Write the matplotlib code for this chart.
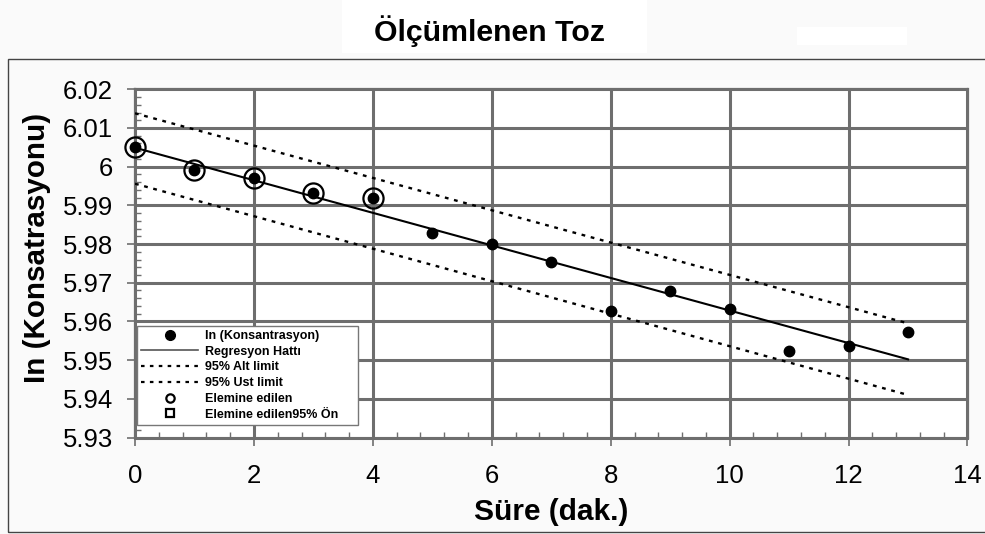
import matplotlib
matplotlib.use("Agg")
import matplotlib.pyplot as plt
from matplotlib.ticker import MultipleLocator, FuncFormatter
from matplotlib.lines import Line2D
from matplotlib.patches import Rectangle

# ---- data ----
time_min = [0, 1, 2, 3, 4, 5, 6, 7, 8, 9, 10, 11, 12, 13]
ln_conc = [6.0052, 5.9992, 5.9971, 5.9931, 5.9920, 5.9829, 5.9799,
           5.9754, 5.9627, 5.9679, 5.9632, 5.9524, 5.9537, 5.9572]
elim_time = [0, 1, 2, 3, 4]
elim_conc = [6.0052, 5.9992, 5.9971, 5.9931, 5.9920]
reg_x = [0, 13]
reg_y = [6.0049, 5.9502]
upper_x = [0, 13]
upper_y = [6.0138, 5.9595]
lower_x = [0, 13]
lower_y = [5.9956, 5.9410]
x_ticks = [0, 2, 4, 6, 8, 10, 12, 14]
y_ticks = [5.93, 5.94, 5.95, 5.96, 5.97, 5.98, 5.99, 6.00, 6.01, 6.02]

title = "Ölçümlenen Toz"
xlabel = "Süre (dak.)"
ylabel = "In (Konsatrasyonu)"
leg_labels = ["In (Konsantrasyon)", "Regresyon Hattı", "95% Alt limit",
              "95% Ust limit", "Elemine edilen", "Elemine edilen95% Ön"]

plt.rcParams['font.family'] = ['Liberation Sans', 'DejaVu Sans']

W, H = 985, 534
fig = plt.figure(figsize=(W / 100, H / 100), dpi=100, facecolor='#fafafa')

# outer frame and white patches
fig.patches.append(Rectangle((8 / W, 1 - 532 / H), 1.2, (532 - 59) / H,
                             transform=fig.transFigure, fill=False,
                             edgecolor='#444444', linewidth=1.0))
fig.patches.append(Rectangle((342 / W, 1 - 53 / H), (647 - 342) / W, 53 / H,
                             transform=fig.transFigure, facecolor='white',
                             edgecolor='none'))
fig.patches.append(Rectangle((797 / W, 1 - 45 / H), (907 - 797) / W, 18 / H,
                             transform=fig.transFigure, facecolor='white',
                             edgecolor='none'))

left, right = 135 / W, 967.5 / W
top, bottom = 1 - 89.3 / H, 1 - 437.5 / H
ax = fig.add_axes([left, bottom, right - left, top - bottom])
ax.set_facecolor('white')

ax.set_xlim(0, 14)
ax.set_ylim(5.93, 6.02)
ax.set_xticks(x_ticks)
ax.set_yticks(y_ticks)
ax.xaxis.set_minor_locator(MultipleLocator(0.4))
ax.yaxis.set_minor_locator(MultipleLocator(0.002))
ax.yaxis.set_major_formatter(FuncFormatter(lambda v, p: f"{v:.2f}".rstrip('0').rstrip('.')))

gc = '#6e6e6e'
ax.grid(True, which='major', color=gc, linewidth=2.2, zorder=0)
ax.set_axisbelow(True)
for s in ax.spines.values():
    s.set_color(gc)
    s.set_linewidth(1.6)
ax.spines['bottom'].set_linewidth(2.2)

ax.tick_params(axis='both', which='major', direction='out', length=6,
               width=1.2, color=gc, labelsize=18.5, labelcolor='black')
ax.tick_params(axis='y', which='major', pad=10)
ax.tick_params(axis='x', which='major', pad=13)
ax.tick_params(axis='both', which='minor', direction='in', length=4,
               width=1.0, color=gc)

dash = (0, (1.6, 2.4))
ax.plot(upper_x, upper_y, color='black', linewidth=1.7, linestyle=dash, zorder=3)
ax.plot(lower_x, lower_y, color='black', linewidth=1.7, linestyle=dash, zorder=3)
ax.plot(reg_x, reg_y, color='black', linewidth=1.5, zorder=3)
ax.plot(time_min, ln_conc, 'o', color='black', markersize=7.5, zorder=4,
        clip_on=False)
ax.plot(elim_time, elim_conc, 'o', markerfacecolor='none', markeredgecolor='black',
        markeredgewidth=1.6, markersize=14.5, zorder=4, clip_on=False)

ax.set_xlabel(xlabel, fontsize=21.5, fontweight='bold')
ax.xaxis.set_label_coords(0.5, (437.5 - 512) / 348.2)
ax.xaxis.label.set_va('center')
ax.set_ylabel(ylabel, fontsize=21.3, fontweight='bold')
ax.yaxis.set_label_coords((37 - 135) / 832.5, (437.5 - 248) / 348.2)
ax.yaxis.label.set_va('center')

fig.text(489 / W, 1 - 31 / H, title, ha='center', va='center',
         fontsize=21.8, fontweight='bold')

handles = [
    Line2D([], [], marker='o', linestyle='none', color='black', markersize=7),
    Line2D([], [], color='#555555', linewidth=1.2),
    Line2D([], [], color='black', linewidth=1.6, linestyle=dash),
    Line2D([], [], color='black', linewidth=1.6, linestyle=dash),
    Line2D([], [], marker='o', linestyle='none', markerfacecolor='none',
           markeredgecolor='black', markeredgewidth=1.6, markersize=6),
    Line2D([], [], marker='s', linestyle='none', markerfacecolor='none',
           markeredgecolor='black', markeredgewidth=1.6, markersize=6),
]
leg = ax.legend(handles, leg_labels, loc='lower left',
                bbox_to_anchor=((137 - 135) / 832.5, (437.5 - 425) / 348.2,
                                (358 - 137) / 832.5, 0),
                mode='expand',
                borderaxespad=0, prop={'size': 9.0, 'weight': 'bold'},
                handlelength=4.5, handletextpad=0.6, labelspacing=0.3,
                borderpad=0.35, fancybox=False, framealpha=1,
                edgecolor='#777777', facecolor='white')
leg.get_frame().set_linewidth(1.0)
leg.set_zorder(5)

fig.savefig('out.png', dpi=100, facecolor=fig.get_facecolor())
